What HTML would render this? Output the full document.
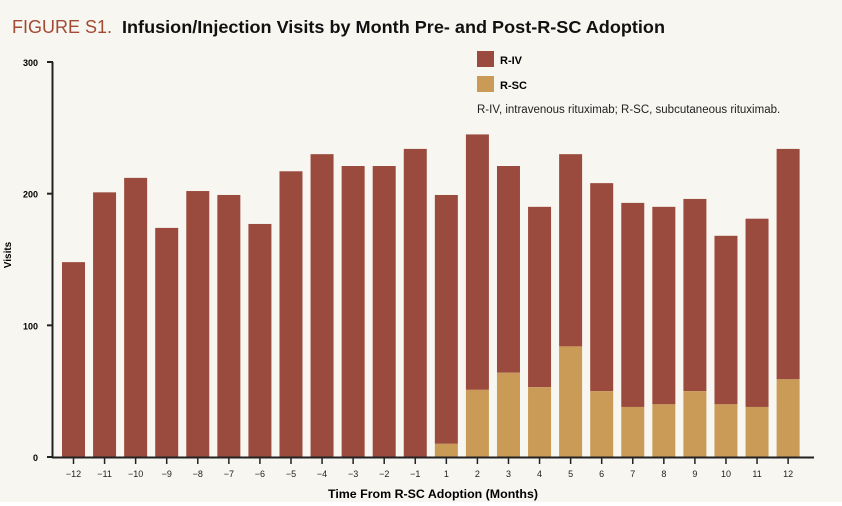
<!DOCTYPE html>
<html><head><meta charset="utf-8"><style>
body{margin:0;background:#fff}
svg{display:block}
text{font-family:"Liberation Sans",sans-serif}
</style></head><body>
<svg width="842" height="506" viewBox="0 0 842 506">
<rect x="0" y="0" width="842" height="502" fill="#f8f6f1"/>
<text x="12" y="33" font-size="18" fill="#a24a34">FIGURE S1.</text>
<text x="122" y="33" font-size="17.5" font-weight="bold" fill="#111" textLength="543" lengthAdjust="spacingAndGlyphs">Infusion/Injection Visits by Month Pre- and Post-R-SC Adoption</text>
<g id="plot"></g>
<line x1="52.5" y1="62" x2="52.5" y2="458" stroke="#222" stroke-width="2"/>
<line x1="52" y1="457.5" x2="814" y2="457.5" stroke="#222" stroke-width="2"/>
<text x="11" y="255" font-size="10" font-weight="bold" transform="rotate(-90 11 255)" text-anchor="middle">Visits</text>
<text x="433" y="498" font-size="12" font-weight="bold" text-anchor="middle" textLength="210" lengthAdjust="spacingAndGlyphs">Time From R-SC Adoption (Months)</text>
<rect x="477" y="51" width="17" height="16" fill="#9b4b3d"/>
<text x="500" y="64" font-size="11" font-weight="bold">R-IV</text>
<rect x="477" y="76" width="17" height="16" fill="#c99b56"/>
<text x="500" y="89" font-size="11" font-weight="bold">R-SC</text>
<text x="477" y="113" font-size="11.5" fill="#222">R-IV, intravenous rituximab; R-SC, subcutaneous rituximab.</text>
</svg>
<script>
const months=["−12","−11","−10","−9","−8","−7","−6","−5","−4","−3","−2","−1","1","2","3","4","5","6","7","8","9","10","11","12"];
const totals=[148,201,212,174,202,199,177,217,230,221,221,234,199,245,221,190,230,208,193,190,196,168,181,234];
const rsc=[0,0,0,0,0,0,0,0,0,0,0,0,10,51,64,53,84,50,38,40,50,40,38,59];
const yTicks=[0,100,200,300];
const NS="http://www.w3.org/2000/svg";
const g=document.getElementById('plot');
function yS(v){return 457-v*395/300;}
function xS(i){return 73.5+i*31.07;}
function mk(t,a){const e=document.createElementNS(NS,t);for(const k in a)e.setAttribute(k,a[k]);g.appendChild(e);return e;}
yTicks.forEach(v=>{
 const l=mk('line',{x1:47,x2:53,y1:yS(v),y2:yS(v),stroke:'#222','stroke-width':2});
 
 
 const t=mk('text',{x:38,y:yS(v)+4,'font-size':9,'font-weight':'bold','text-anchor':'end'});
 t.textContent=v;
 
 
});
months.forEach((m,i)=>{
 const cx=xS(i);
 const b=mk('rect',{x:cx-11.5,y:yS(totals[i]),width:23,height:yS(rsc[i])-yS(totals[i]),fill:'#9b4b3d'});
 
 
 if(rsc[i]>0){
  const s=mk('rect',{x:cx-11.5,y:yS(rsc[i]),width:23,height:457-yS(rsc[i]),fill:'#c99b56'});
  
  
 }
 const tk=mk('line',{x1:cx,x2:cx,y1:458,y2:464,stroke:'#222','stroke-width':1.5});
 
 
 const t=mk('text',{x:cx,y:477,'font-size':9,'text-anchor':'middle',fill:'#222'});
 t.textContent=m;
 
 
});
</script>
</body></html>
